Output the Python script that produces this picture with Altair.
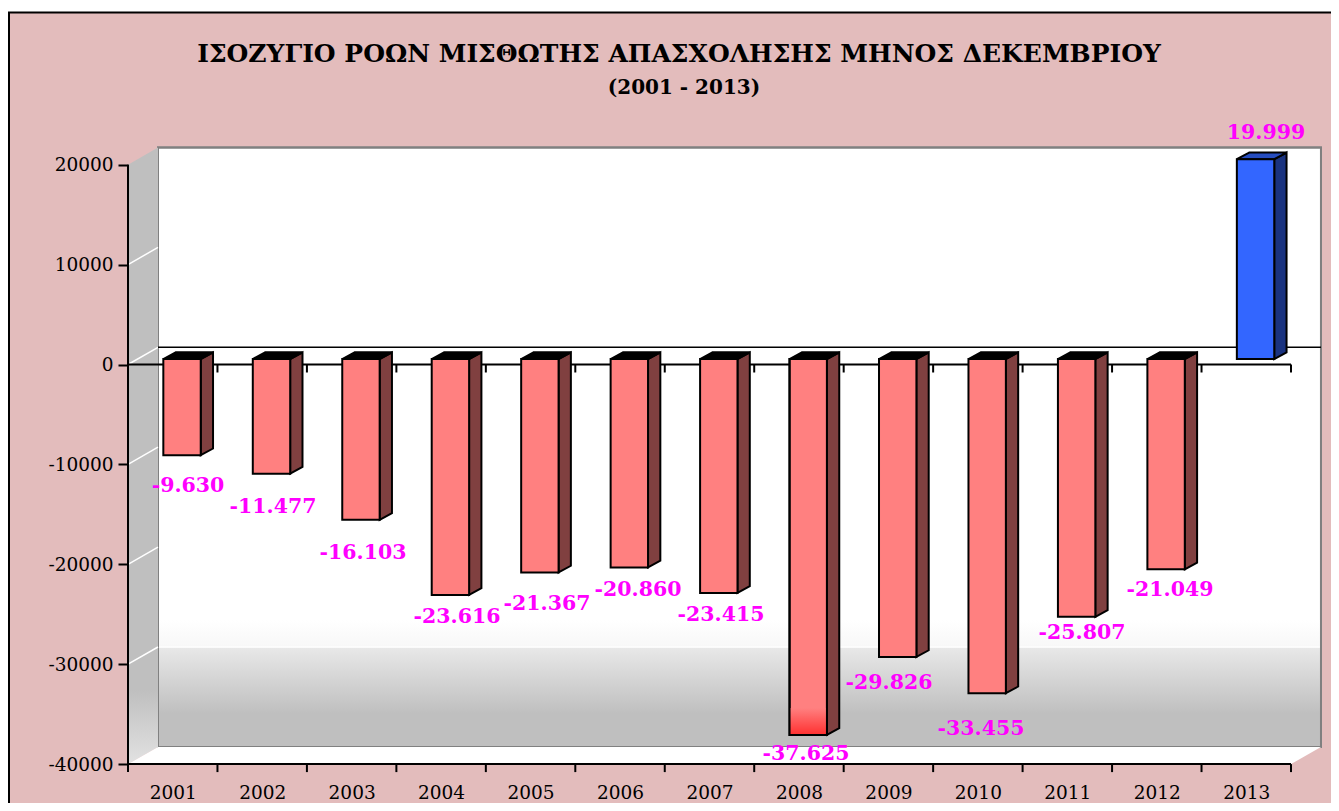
import altair as alt
import pandas as pd

# ---- chart values
YEARS = [2001, 2002, 2003, 2004, 2005, 2006, 2007, 2008, 2009, 2010, 2011, 2012, 2013]
VALUES = [-9630, -11477, -16103, -23616, -21367, -20860, -23415, -37625, -29826, -33455, -25807, -21049, 19999]
VALUE_LABELS = ["-9.630", "-11.477", "-16.103", "-23.616", "-21.367", "-20.860", "-23.415",
                "-37.625", "-29.826", "-33.455", "-25.807", "-21.049", "19.999"]
Y_TICKS = [20000, 10000, 0, -10000, -20000, -30000, -40000]
TITLE_LINES = ["ΙΣΟΖΥΓΙΟ ΡΟΩΝ ΜΙΣΘΩΤΗΣ ΑΠΑΣΧΟΛΗΣΗΣ ΜΗΝΟΣ ΔΕΚΕΜΒΡΙΟΥ", "(2001 - 2013)"]

# ---- layout (page pixels)
W, H = 1323, 795
PX_PER_YEAR = 89.46
PX_PER_UNIT = 0.00999
LEFT_PAGE = 128.0
ZERO_PAGE = 364.5
FIRST_EDGE = YEARS[0] - 0.5
LAST_EDGE = YEARS[-1] + 0.5


def ux(page_x):
    return FIRST_EDGE + (page_x - LEFT_PAGE) / PX_PER_YEAR


def uy(page_y):
    return (ZERO_PAGE - page_y) / PX_PER_UNIT


LABEL_PAGE_X = [188, 273, 363, 457, 547, 638, 721, 806, 889, 981, 1082, 1170, 1266]
LABEL_PAGE_Y = [486, 507, 553, 617, 604, 590, 615, 754, 683, 729, 633, 590, 133]

WALL_DX = 30 / PX_PER_YEAR
WALL_DY = 1720
BAR_SHIFT_X = 9.3 / PX_PER_YEAR
BAR_SHIFT_Y = 550
BAR_HALF = 18.7 / PX_PER_YEAR
BAR_DX = 12.3 / PX_PER_YEAR
BAR_DY = 670

X_SCALE = alt.Scale(domain=[ux(8), ux(8 + W)], nice=False, zero=False)
Y_SCALE = alt.Scale(domain=[uy(8 + H), uy(8)], nice=False, zero=False)
FONT = "DejaVu Serif"
X_AXIS = alt.Axis(
    values=YEARS, labelExpr="'' + datum.value", ticks=False, domain=False, grid=False,
    offset=-(8 + H - 772), labelFont=FONT, labelFontSize=18.5, labelColor="black", labelPadding=11,
    labelOverlap=False, labelFlush=False, zindex=1, labelAngle=0)
Y_AXIS = alt.Axis(
    values=Y_TICKS, labelExpr="'' + datum.value", domain=False, grid=False, offset=-120,
    tickSize=10, tickWidth=2, tickColor="black", labelFont=FONT, labelFontSize=18.5,
    labelColor="black", labelPadding=5, labelOverlap=False, labelFlush=False, zindex=1)


def X(field="x"):
    return alt.X(f"{field}:Q", scale=X_SCALE, title=None, axis=X_AXIS)


def Y(field="y"):
    return alt.Y(f"{field}:Q", scale=Y_SCALE, title=None, stack=None, axis=Y_AXIS)


def grad(stops):
    return alt.Gradient(
        gradient="linear", x1=0, y1=0, x2=0, y2=1,
        stops=[alt.GradientStop(offset=o, color=c) for o, c in stops],
    )


def rect_df(x, x2, y, y2):
    return pd.DataFrame({"x": [x], "x2": [x2], "y": [y], "y2": [y2]})


# ---- page furniture
frame = alt.Chart(rect_df(ux(9), ux(1400), uy(12.5), uy(860))).mark_rect(
    fill="#e3bcbc", stroke="black", strokeWidth=2, clip=True
).encode(x=X(), x2="x2:Q", y=Y(), y2="y2:Q")

wall_l, wall_r = FIRST_EDGE + WALL_DX, LAST_EDGE + WALL_DX
wall_b, wall_t = Y_TICKS[-1] + WALL_DY, Y_TICKS[0] + WALL_DY

back_wall = alt.Chart(rect_df(wall_l, wall_r, wall_t, wall_b)).mark_rect(
    fill="white", stroke="#808080", strokeWidth=2
).encode(x=X(), x2="x2:Q", y=Y(), y2="y2:Q")

back_shade = alt.Chart(rect_df(wall_l, wall_r, uy(620), wall_b)).mark_rect(
    fill=grad([(0, "#ffffff"), (0.206, "#f8f8f8"), (0.22, "#e8e8e8"), (0.738, "#bfbfbf"), (1, "#bfbfbf")]),
).encode(x=X(), x2="x2:Q", y=Y(), y2="y2:Q")

back_edge = alt.Chart(rect_df(wall_l, wall_r, wall_t, wall_b)).mark_rect(
    fillOpacity=0, stroke="#808080", strokeWidth=2
).encode(x=X(), x2="x2:Q", y=Y(), y2="y2:Q")

left_wall = alt.Chart(pd.DataFrame({
    "x": [FIRST_EDGE, wall_l],
    "y": [Y_TICKS[0], wall_t],
    "y2": [Y_TICKS[-1], wall_b],
})).mark_area(fill=grad([(0, "#bfbfbf"), (0.88, "#bfbfbf"), (1, "#e2e2e2")])).encode(
    x=X(), y=Y(), y2="y2:Q"
)

floor = alt.Chart(pd.DataFrame({
    "y": [Y_TICKS[-1], wall_b],
    "x": [FIRST_EDGE, wall_l],
    "x2": [LAST_EDGE, wall_r],
})).mark_area(orient="horizontal", fill="white").encode(y=Y(), x=X(), x2="x2:Q")

grid_rows = []
for v in Y_TICKS[1:-1]:
    grid_rows += [{"v": v, "x": FIRST_EDGE, "y": v}, {"v": v, "x": wall_l, "y": v + WALL_DY}]
grid_left = alt.Chart(pd.DataFrame(grid_rows)).mark_line(color="white", strokeWidth=1.5).encode(
    x=X(), y=Y(), detail="v:N"
)

back_grid = alt.Chart(pd.DataFrame({"x": [wall_l + 0.01], "x2": [wall_r], "y": [-30000 + WALL_DY]})).mark_rule(
    color="white", strokeWidth=1.5
).encode(x=X(), x2="x2:Q", y=Y())

back_zero = alt.Chart(pd.DataFrame({"x": [wall_l], "x2": [wall_r], "y": [WALL_DY]})).mark_rule(
    color="black", strokeWidth=1.5
).encode(x=X(), x2="x2:Q", y=Y())

h_lines = alt.Chart(pd.DataFrame({"x": [FIRST_EDGE] * 2, "x2": [LAST_EDGE] * 2, "y": [0, Y_TICKS[-1]]})).mark_rule(
    color="black", strokeWidth=2
).encode(x=X(), x2="x2:Q", y=Y())

y_line = alt.Chart(pd.DataFrame({"x": [FIRST_EDGE], "y": [Y_TICKS[0]], "y2": [Y_TICKS[-1]]})).mark_rule(
    color="black", strokeWidth=2
).encode(x=X(), y=Y(), y2="y2:Q")

edges = [FIRST_EDGE + i for i in range(len(YEARS) + 1)]
tick_rows = [{"x": e, "y": b, "y2": b - 800} for e in edges for b in (0, Y_TICKS[-1])]
x_ticks = alt.Chart(pd.DataFrame(tick_rows)).mark_rule(color="black", strokeWidth=2).encode(
    x=X(), y=Y(), y2="y2:Q"
)

# ---- bars: three faces, all derived from the values
front_rows, side_rows, top_rows = [], [], []
for yr, v in zip(YEARS, VALUES):
    kind = "neg" if v < 0 else "pos"
    xl = yr + BAR_SHIFT_X - BAR_HALF
    xr = yr + BAR_SHIFT_X + BAR_HALF
    y0 = BAR_SHIFT_Y
    yv = v + BAR_SHIFT_Y
    high = max(y0, yv)
    front_rows.append({"year": yr, "x": xl, "x2": xr, "y": yv, "y2": y0, "face": kind + "_front"})
    side_rows += [
        {"year": yr, "x": xr, "y": yv, "y2": y0, "face": kind + "_side"},
        {"year": yr, "x": xr + BAR_DX, "y": yv + BAR_DY, "y2": y0 + BAR_DY, "face": kind + "_side"},
    ]
    top_rows += [
        {"year": yr, "y": high, "x": xl, "x2": xr, "face": kind + "_top"},
        {"year": yr, "y": high + BAR_DY, "x": xl + BAR_DX, "x2": xr + BAR_DX, "face": kind + "_top"},
    ]
FACE = alt.Fill(
    "face:N", legend=None,
    scale=alt.Scale(
        domain=["neg_front", "neg_side", "neg_top", "pos_front", "pos_side", "pos_top"],
        range=["#ff8080", "#804040", "#000000", "#3366ff", "#1a3380", "#264dbf"],
    ),
)
STROKE = dict(stroke="black", strokeWidth=2)
df_front = pd.DataFrame(front_rows)
side = alt.Chart(pd.DataFrame(side_rows)).mark_area(**STROKE).encode(
    x=X(), y=Y(), y2="y2:Q", fill=FACE, detail="year:N"
)
top = alt.Chart(pd.DataFrame(top_rows)).mark_area(orient="horizontal", **STROKE).encode(
    y=Y(), x=X(), x2="x2:Q", fill=FACE, detail="year:N"
)
front = alt.Chart(df_front).mark_rect(**STROKE).encode(
    x=X(), x2="x2:Q", y=Y(), y2="y2:Q", fill=FACE
)

# the deepest bar turns redder near the floor
deep = df_front[df_front.year == 2008].copy()
deep["y2"] = uy(708)
deep_glow = alt.Chart(deep).mark_rect(fill=grad([(0, "#ff8080"), (1, "#ff3030")])).encode(
    x=X(), x2="x2:Q", y=Y("y2"), y2="y:Q"
)
front_edge = alt.Chart(df_front[df_front.year == 2008]).mark_rect(fillOpacity=0, **STROKE).encode(
    x=X(), x2="x2:Q", y=Y(), y2="y2:Q"
)

# ---- texts
labels = alt.Chart(pd.DataFrame({
    "x": [ux(p) for p in LABEL_PAGE_X],
    "y": [uy(p) for p in LABEL_PAGE_Y],
    "t": VALUE_LABELS,
})).mark_text(font=FONT, fontWeight="bold", fontSize=20.5, color="#ff00ff", align="center", baseline="middle").encode(
    x=X(), y=Y(), text="t:N"
)

title1 = alt.Chart(pd.DataFrame({"x": [ux(679)], "y": [uy(54)], "t": [TITLE_LINES[0]]})).mark_text(
    font=FONT, fontWeight="bold", fontSize=25, color="black", align="center", baseline="middle"
).encode(x=X(), y=Y(), text="t:N")
title2 = alt.Chart(pd.DataFrame({"x": [ux(684)], "y": [uy(88)], "t": [TITLE_LINES[1]]})).mark_text(
    font=FONT, fontWeight="bold", fontSize=20, color="black", align="center", baseline="middle"
).encode(x=X(), y=Y(), text="t:N")

chart = alt.layer(
    frame, back_wall, back_shade, back_grid, back_edge, left_wall, floor, grid_left,
    back_zero, h_lines, y_line, x_ticks, side, top, front, deep_glow, front_edge,
    labels, title1, title2,
).properties(
    width=W, height=H, padding=0, background="white",
    autosize=alt.AutoSizeParams(type="none"),
).configure_view(stroke=None)

chart.save("out.html", embed_options={"renderer": "svg", "actions": False})
